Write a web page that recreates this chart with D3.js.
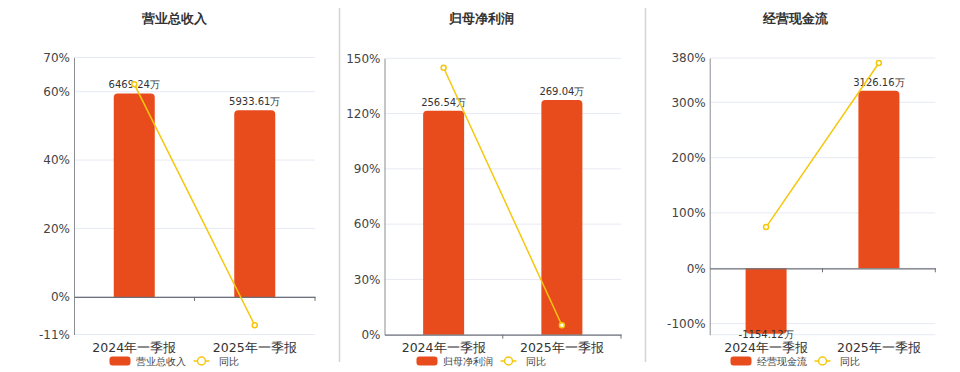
<!DOCTYPE html>
<html><head><meta charset="utf-8">
<script src="https://cdn.jsdelivr.net/npm/d3@7/dist/d3.min.js"></script>
<style>body{margin:0;background:#fff}svg{display:block}</style>
</head><body><svg id="c" width="960" height="372"></svg>
<script>
const categories = ["2024年一季报", "2025年一季报"];
const titles = ["营业总收入", "归母净利润", "经营现金流"];
const barNames = ["营业总收入", "归母净利润", "经营现金流"];
const lineName = "同比";
const revenueValues = [6469.24, 5933.61];
const revenueYoY = [62.2, -8.3];
const profitValues = [256.54, 269.04];
const profitYoY = [144.9, 5.1];
const cashValues = [-1154.12, 3126.16];
const cashYoY = [74.5, 371];
const revenueTicks = [-11, 0, 20, 40, 60, 70];
const profitTicks = [0, 30, 60, 90, 120, 150];
const cashTicks = [-100, 0, 100, 200, 300, 380];
const revenueBarDomain = [-1196, 7610];
const profitBarDomain = [0, 316.7];
const cashBarDomain = [-1170, 3705];
const cashPctDomain = [-120, 380];

const BAR = "#e84b1c", LINE = "#f5c70c";
const svg = d3.select("#c");
const font = "'DejaVu Sans', sans-serif";

const panels = [
  {title: titles[0], name: barNames[0], vals: revenueValues, yoy: revenueYoY, ticks: revenueTicks,
   pct: [-11, 70], bar: revenueBarDomain, x0: 74, x1: 315, top: 57.5, bottom: 334.5, cx: 174},
  {title: titles[1], name: barNames[1], vals: profitValues, yoy: profitYoY, ticks: profitTicks,
   pct: [0, 150], bar: profitBarDomain, x0: 384.5, x1: 621, top: 58.3, bottom: 334.7, cx: 481},
  {title: titles[2], name: barNames[2], vals: cashValues, yoy: cashYoY, ticks: cashTicks,
   pct: cashPctDomain, bar: cashBarDomain, x0: 709.7, x1: 935.3, top: 58, bottom: 334.7, cx: 795}
];

// separators
[339.5, 645.5].forEach(x => svg.append("line").attr("x1", x).attr("x2", x).attr("y1", 8).attr("y2", 362)
  .attr("stroke", "#d4d4d4").attr("stroke-width", 1.5));

panels.forEach(p => {
  const g = svg.append("g");
  const y = d3.scaleLinear().domain(p.pct).range([p.bottom, p.top]);
  const yb = d3.scaleLinear().domain(p.bar).range([p.bottom, p.top]);
  const x = d3.scaleBand().domain(categories).range([p.x0, p.x1]).paddingInner(0).paddingOuter(0);
  const bw = 41;

  g.append("text").attr("x", p.cx).attr("y", 23).attr("text-anchor", "middle")
    .attr("font-family", font).attr("font-size", 13).attr("font-weight", "bold").attr("fill", "#333").text(p.title);

  // grid
  g.selectAll(".grid").data(p.ticks.concat(p.pct[0] !== p.ticks[0] ? [p.pct[0]] : [])).enter().append("line")
    .attr("x1", p.x0).attr("x2", p.x1).attr("y1", d => y(d)).attr("y2", d => y(d))
    .attr("stroke", "#e6eaf3").attr("stroke-width", 1);

  // y axis
  const ya = d3.axisLeft(y).tickValues(p.ticks).tickFormat(d => d + "%").tickSize(0).tickPadding(4);
  const yg = g.append("g").attr("transform", `translate(${p.x0},0)`).call(ya);
  yg.select(".domain").attr("stroke", "#8a8d94");
  yg.selectAll("text").attr("font-family", font).attr("font-size", 12).attr("fill", "#444");

  // bars
  g.selectAll(".bar").data(p.vals).enter().append("path")
    .attr("fill", BAR)
    .attr("d", (d, i) => {
      const bx = x(categories[i]) + (x.bandwidth() - bw) / 2;
      const y0 = yb(0), y1 = yb(d), r = 4;
      if (d >= 0) {
        return `M${bx},${y0}V${y1 + r}Q${bx},${y1} ${bx + r},${y1}H${bx + bw - r}Q${bx + bw},${y1} ${bx + bw},${y1 + r}V${y0}Z`;
      } else {
        return `M${bx},${y0}V${y1 - r}Q${bx},${y1} ${bx + r},${y1}H${bx + bw - r}Q${bx + bw},${y1} ${bx + bw},${y1 - r}V${y0}Z`;
      }
    });

  // x axis at zero
  const xa = d3.axisBottom(x).tickSize(0).tickFormat("");
  const xg = g.append("g").attr("transform", `translate(0,${y(0)})`).call(xa);
  xg.select(".domain").attr("stroke", "#6e7079").attr("stroke-width", 1.2);
  [p.x0 + x.bandwidth(), p.x1].forEach(tx => g.append("line").attr("x1", tx).attr("x2", tx)
    .attr("y1", y(0)).attr("y2", y(0) + 4).attr("stroke", "#6e7079"));
  g.selectAll(".cat").data(categories).enter().append("text")
    .attr("x", d => x(d) + x.bandwidth() / 2).attr("y", 352).attr("text-anchor", "middle")
    .attr("font-family", font).attr("font-size", 12.5).attr("fill", "#333").text(d => d);

  // bar labels
  g.selectAll(".bl").data(p.vals).enter().append("text")
    .attr("x", (d, i) => x(categories[i]) + x.bandwidth() / 2)
    .attr("y", d => d >= 0 ? yb(d) - 5 : yb(d) + 4.5)
    .attr("text-anchor", "middle").attr("font-family", font).attr("font-size", 10).attr("fill", "#333")
    .text(d => d.toFixed(2) + "万");

  // line
  const line = d3.line().x((d, i) => x(categories[i]) + x.bandwidth() / 2).y(d => y(d));
  g.append("path").datum(p.yoy).attr("d", line).attr("fill", "none").attr("stroke", LINE).attr("stroke-width", 1.5);
  g.selectAll(".pt").data(p.yoy).enter().append("circle")
    .attr("cx", (d, i) => x(categories[i]) + x.bandwidth() / 2).attr("cy", d => y(d)).attr("r", 2.5)
    .attr("fill", "#fff").attr("stroke", LINE).attr("stroke-width", 1.5);

  // legend
  const lg = g.append("g");
  const lx = p.cx - 64.5, ly = 361;
  lg.append("rect").attr("x", lx).attr("y", ly - 4.5).attr("width", 21).attr("height", 9).attr("rx", 3).attr("fill", BAR);
  lg.append("text").attr("x", lx + 26).attr("y", ly + 3.5).attr("font-family", font).attr("font-size", 10)
    .attr("fill", "#444").text(p.name);
  const l2 = lx + 84;
  lg.append("line").attr("x1", l2).attr("x2", l2 + 16).attr("y1", ly).attr("y2", ly).attr("stroke", LINE).attr("stroke-width", 1.5);
  lg.append("circle").attr("cx", l2 + 8).attr("cy", ly).attr("r", 4).attr("fill", "#fff").attr("stroke", LINE).attr("stroke-width", 1.5);
  lg.append("text").attr("x", l2 + 25).attr("y", ly + 3.5).attr("font-family", font).attr("font-size", 10)
    .attr("fill", "#444").text(lineName);
});
</script></body></html>
